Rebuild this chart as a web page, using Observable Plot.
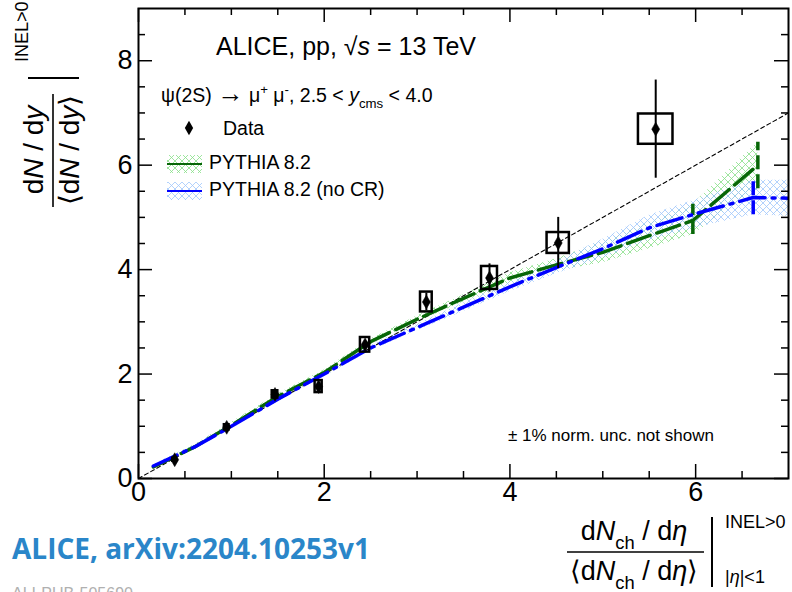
<!DOCTYPE html>
<html><head><meta charset="utf-8">
<script src="https://cdn.jsdelivr.net/npm/d3@7"></script>
<script src="https://cdn.jsdelivr.net/npm/@observablehq/plot@0.6"></script>
<style>
html,body{margin:0;padding:0;background:#fff;}
#chart{width:792px;height:592px;overflow:hidden;position:relative;background:#fff;}
svg{overflow:hidden;}
</style>
</head><body><div id="chart"></div>
<script>
// ---------- data ----------
const dataX     = [0.39, 0.95, 1.47, 1.94, 2.44, 3.10, 3.78, 4.52, 5.57];
const dataY     = [0.36, 0.98, 1.61, 1.76, 2.56, 3.38, 3.84, 4.51, 6.69];
const dataStat  = [0.05, 0.06, 0.06, 0.07, 0.08, 0.17, 0.27, 0.49, 0.94];
const dataSystX = [0.02, 0.025, 0.03, 0.038, 0.05, 0.063, 0.086, 0.12, 0.186];
const dataSystY = [0.03, 0.05, 0.07, 0.115, 0.14, 0.19, 0.22, 0.20, 0.29];

// PYTHIA 8.2 (with CR)
const pyX  = [0.16, 0.6, 1.0, 1.5, 2.0, 2.5, 3.0, 3.5, 4.0, 4.5, 5.0, 5.5, 5.97, 6.67];
const pyY  = [0.22, 0.60, 1.02, 1.57, 2.03, 2.62, 3.05, 3.45, 3.84, 4.09, 4.33, 4.65, 4.94, 6.00];
const pyLo = [0.19, 0.56, 0.97, 1.52, 1.98, 2.57, 2.99, 3.38, 3.74, 3.97, 4.13, 4.40, 4.67, 5.55];
const pyHi = [0.25, 0.64, 1.07, 1.62, 2.08, 2.67, 3.11, 3.52, 3.94, 4.21, 4.53, 4.90, 5.25, 6.44];

// PYTHIA 8.2 (no CR)
const ncrX  = [0.16, 0.6, 1.0, 1.5, 2.0, 2.5, 3.0, 3.5, 4.0, 4.5, 5.0, 5.5, 6.0, 6.62, 7.2];
const ncrY  = [0.24, 0.60, 1.00, 1.52, 2.00, 2.50, 2.89, 3.28, 3.67, 4.04, 4.40, 4.80, 5.07, 5.38, 5.36];
const ncrLo = [0.21, 0.56, 0.95, 1.47, 1.95, 2.44, 2.83, 3.20, 3.58, 3.92, 4.22, 4.56, 4.80, 5.05, 5.01];
const ncrHi = [0.27, 0.64, 1.05, 1.57, 2.05, 2.56, 2.95, 3.36, 3.76, 4.16, 4.58, 5.04, 5.34, 5.71, 5.71];

const diagX = [0, 7];            // y = x reference line
const xMajor = [0, 2, 4, 6];
const xMinor = [0.5, 1, 1.5, 2.5, 3, 3.5, 4.5, 5, 5.5, 6.5];
const yMajor = [0, 2, 4, 6, 8];
const yMinor = [0.5, 1, 1.5, 2.5, 3, 3.5, 4.5, 5, 5.5, 6.5, 7, 7.5, 8.5];
const xTickLabels = ["0", "2", "4", "6"];
const yTickLabels = ["0", "2", "4", "6", "8"];

// ---------- tables ----------
const pts = dataX.map((x, i) => ({x, y: dataY[i], e: dataStat[i], sx: dataSystX[i], sy: dataSystY[i]}));
const py  = pyX.map((x, i) => ({x, y: pyY[i], lo: pyLo[i], hi: pyHi[i]}));
const ncr = ncrX.map((x, i) => ({x, y: ncrY[i], lo: ncrLo[i], hi: ncrHi[i]}));

const FONT = "'Liberation Sans', Arial, Helvetica, sans-serif";
const W = 792, H = 592, ML = 138, MR = 4, MT = 8, MB = 114;
const FW = W - ML - MR, FH = H - MT - MB;
const GREEN = "#076607", BLUE = "#0000ff";
const MAJ = 14, MIN = 7;

const svg = Plot.plot({
  width: W, height: H,
  marginLeft: ML, marginRight: MR, marginTop: MT, marginBottom: MB,
  x: {domain: [0, 7], axis: null},
  y: {domain: [0, 9], axis: null},
  style: {fontFamily: FONT, background: "#fff", color: "black"},
  marks: [
    // model bands
    Plot.areaY(py,  {x: "x", y1: "lo", y2: "hi", fill: "url(#hatchG)", clip: true}),
    Plot.areaY(ncr, {x: "x", y1: "lo", y2: "hi", fill: "url(#hatchB)", clip: true}),
    // y = x
    Plot.line(diagX, {x: d => d, y: d => d, stroke: "black", strokeWidth: 1.1, strokeDasharray: "4,3", clip: true}),
    // model curves
    Plot.line(py,  {x: "x", y: "y", stroke: GREEN, strokeWidth: 3.5, strokeDasharray: "24,7", clip: true}),
    Plot.ruleX(py.filter(d => d.hi - d.lo > 0.56), {x: "x", y1: "lo", y2: "hi", stroke: GREEN, strokeWidth: 3.5, strokeDasharray: "14,5", clip: true}),
    Plot.line(ncr, {x: "x", y: "y", stroke: BLUE, strokeWidth: 3.5, strokeDasharray: "26,7,3,7", clip: true}),
    Plot.ruleX(ncr.filter(d => d.hi - d.lo > 0.6), {x: "x", y1: "lo", y2: "hi", stroke: BLUE, strokeWidth: 3.5, strokeDasharray: "14,5", clip: true}),
    // data: systematic boxes, statistical bars, markers
    Plot.rect(pts, {x1: d => d.x - d.sx, x2: d => d.x + d.sx, y1: d => d.y - d.sy, y2: d => d.y + d.sy, fill: "none", stroke: "black", strokeWidth: 2.5}),
    Plot.ruleX(pts, {x: "x", y1: d => d.y - d.e, y2: d => d.y + d.e, stroke: "black", strokeWidth: 2}),
    Plot.dot(pts, {x: "x", y: "y", symbol: "diamond", r: 4.2, fill: "black", stroke: "black", strokeWidth: 0.5}),
    // frame and inward ticks on all four sides
    Plot.frame({stroke: "black", strokeWidth: 2}),
    Plot.tickX(xMajor, {x: d => d, insetTop: FH - MAJ, stroke: "black", strokeWidth: 1.5}),
    Plot.tickX(xMinor, {x: d => d, insetTop: FH - MIN, stroke: "black", strokeWidth: 1.5}),
    Plot.tickX(xMajor, {x: d => d, insetBottom: FH - MAJ, stroke: "black", strokeWidth: 1.5}),
    Plot.tickX(xMinor, {x: d => d, insetBottom: FH - MIN, stroke: "black", strokeWidth: 1.5}),
    Plot.tickY(yMajor, {y: d => d, insetRight: FW - MAJ, stroke: "black", strokeWidth: 1.5}),
    Plot.tickY(yMinor, {y: d => d, insetRight: FW - MIN, stroke: "black", strokeWidth: 1.5}),
    Plot.tickY(yMajor, {y: d => d, insetLeft: FW - MAJ, stroke: "black", strokeWidth: 1.5}),
    Plot.tickY(yMinor, {y: d => d, insetLeft: FW - MIN, stroke: "black", strokeWidth: 1.5}),
    // tick labels
    Plot.text(xMajor, {x: d => d, text: (d, i) => xTickLabels[i], frameAnchor: "bottom", dy: 22, fontSize: 27, fill: "black"}),
    Plot.text(yMajor, {y: d => d, text: (d, i) => yTickLabels[i], frameAnchor: "left", dx: -6, textAnchor: "end", fontSize: 27, fill: "black"})
  ]
});

const s = d3.select(svg);
const defs = s.insert("defs", ":first-child");
function hatch(id, color) {
  const p = defs.append("pattern").attr("id", id).attr("patternUnits", "userSpaceOnUse")
    .attr("width", 7).attr("height", 7);
  p.append("path").attr("d", "M0,0L7,7M7,0L0,7").attr("stroke", color)
    .attr("stroke-width", 0.8).attr("fill", "none");
}
hatch("hatchG", "#86e086");
hatch("hatchB", "#9fc6fb");

// rich text helper: parts are strings or {t, it, sub, sup, scale, big}
function rich(g, x, y, parts, size, anchor = "start") {
  const t = g.append("text").attr("x", x).attr("y", y).attr("font-size", size)
    .attr("text-anchor", anchor).attr("font-family", FONT).attr("fill", "black")
    .style("white-space", "pre");
  let shift = 0;
  for (const p of parts) {
    const o = typeof p === "string" ? {t: p} : p;
    const sp = t.append("tspan").text(o.t);
    let target = 0;
    if (o.sub) target = size * 0.32;
    if (o.sup) target = -size * 0.42;
    if (target - shift !== 0) sp.attr("dy", target - shift);
    shift = target;
    if (o.sub || o.sup) sp.attr("font-size", size * (o.scale || 0.68));
    if (o.it) sp.attr("font-style", "italic");
    if (o.big) sp.attr("font-size", size * o.big);
  }
  return t;
}

const ann = s.append("g").attr("text-anchor", "start");
// header texts
rich(ann, 216, 55, ["ALICE, pp, ", "\u221A", {t: "s", it: true}, " = 13 TeV"], 25);
rich(ann, 161, 102, ["\u03C8(2S) ", {t: "\u2192", big: 1.35}, " \u03BC", {t: "+", sup: true}, " \u03BC", {t: "-", sup: true}, ", 2.5 < ", {t: "y", it: true}, {t: "cms", sub: true}, " < 4.0"], 19.5);
// legend
ann.append("path").attr("d", d3.symbol(d3.symbolDiamond, 60)()).attr("transform", "translate(189,128)").attr("fill", "black");
rich(ann, 223, 135, ["Data"], 19.5);
ann.append("rect").attr("x", 167).attr("y", 155).attr("width", 35).attr("height", 18).attr("fill", "url(#hatchG)");
ann.append("line").attr("x1", 167).attr("x2", 202).attr("y1", 164).attr("y2", 164).attr("stroke", GREEN).attr("stroke-width", 2);
rich(ann, 209, 169, ["PYTHIA 8.2"], 19.5);
ann.append("rect").attr("x", 167).attr("y", 182).attr("width", 35).attr("height", 18).attr("fill", "url(#hatchB)");
ann.append("line").attr("x1", 167).attr("x2", 202).attr("y1", 191).attr("y2", 191).attr("stroke", BLUE).attr("stroke-width", 2);
rich(ann, 209, 196, ["PYTHIA 8.2 (no CR)"], 19.5);
rich(ann, 508, 441, ["\u00B1 1% norm. unc. not shown"], 17);

// x-axis title
rich(ann, 634, 540, ["d", {t: "N", it: true}, {t: "ch", sub: true}, " / d", {t: "\u03B7", it: true}], 27, "middle");
ann.append("line").attr("x1", 567).attr("x2", 704).attr("y1", 552).attr("y2", 552).attr("stroke", "black").attr("stroke-width", 1.6);
rich(ann, 634, 580, ["\u27E8d", {t: "N", it: true}, {t: "ch", sub: true}, " / d", {t: "\u03B7", it: true}, "\u27E9"], 27, "middle");
ann.append("line").attr("x1", 712).attr("x2", 712).attr("y1", 517).attr("y2", 587).attr("stroke", "black").attr("stroke-width", 2);
rich(ann, 725, 528, ["INEL>0"], 18);
rich(ann, 725, 583, ["|", {t: "\u03B7", it: true}, "|<1"], 18);

// y-axis title (rotated)
const yt = ann.append("g").attr("transform", "rotate(-90)");
rich(yt, -150, 43, ["d", {t: "N", it: true}, " / d", {t: "y", it: true}], 28, "middle");
yt.append("line").attr("x1", -207).attr("x2", -94).attr("y1", 53).attr("y2", 53).attr("stroke", "black").attr("stroke-width", 1.6);
rich(yt, -150, 79, ["\u27E8d", {t: "N", it: true}, " / d", {t: "y", it: true}, "\u27E9"], 28, "middle");
rich(yt, -62, 28, ["INEL>0"], 18);
ann.append("line").attr("x1", 28).attr("x2", 79).attr("y1", 78).attr("y2", 78).attr("stroke", "black").attr("stroke-width", 2);

// captions
ann.append("text").attr("x", 12).attr("y", 559).attr("text-anchor", "start").attr("font-family", "'Open Sans', sans-serif")
  .attr("font-weight", 700).attr("font-size", 28).attr("fill", "#2a86c9").text("ALICE, arXiv:2204.10253v1");
ann.append("text").attr("x", 12).attr("y", 599).attr("text-anchor", "start").attr("font-family", FONT)
  .attr("font-size", 16).attr("fill", "#b0b0b0").text("ALI-PUB-505690");

document.getElementById("chart").appendChild(svg);
</script>
</body></html>
